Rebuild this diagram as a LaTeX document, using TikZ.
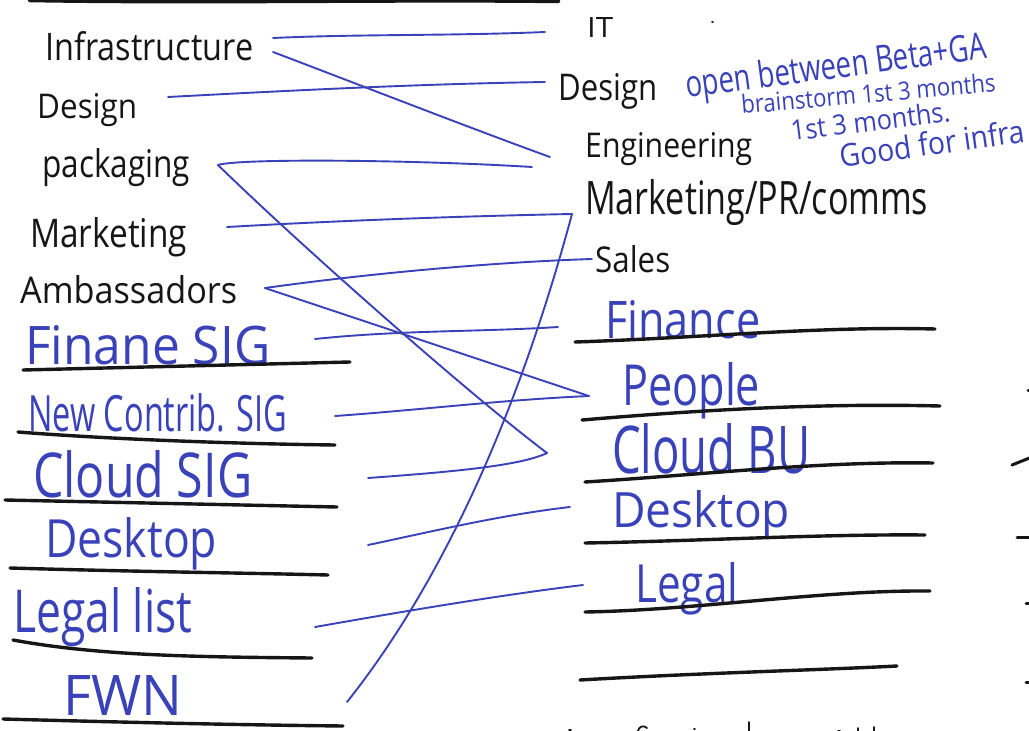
\documentclass[tikz,border=0pt]{standalone}
\usepackage{fontspec}
\usepackage{graphicx}
\setmainfont{Open Sans}
\definecolor{inkblue}{RGB}{58,66,185}
\definecolor{inkblack}{RGB}{22,22,22}
\newcommand{\hw}[3]{\resizebox{#1pt}{#2pt}{#3}}
\tikzset{
  lbl/.style={anchor=base west, inner sep=0pt, text=inkblack},
  blbl/.style={anchor=base west, inner sep=0pt, text=inkblue},
  note/.style={anchor=base west, inner sep=0pt, text=inkblue},
  link/.style={draw=inkblue, line width=1.9pt, line cap=round, line join=round},
  rulebar/.style={draw=inkblack, line width=3.4pt, line cap=round},
  speck/.style={draw=inkblack, line width=3pt, line cap=round},
  tick/.style={draw=inkblack, line width=1.8pt, line cap=round},
}
\begin{document}
\begin{tikzpicture}[x=1pt,y=-1pt]
\useasboundingbox[fill=white] (0,0) rectangle (1029,731);
\clip (0,0) rectangle (1029,731);

% top rule
\draw[rulebar, line width=4.5pt] (30,0) .. controls (200,3) and (400,-1) .. (558,1);

% ---------- left column, black ----------
\node[lbl] (lInfra)  at (45,60)  {\hw{208}{29}{Infrastructure}};
\node[lbl] (lDesign) at (37,118) {\hw{100}{25}{Design}};
\node[lbl] (lPack)   at (42,177) {\hw{148}{29}{packaging}};
\node[lbl] (lMkt)    at (30,247) {\hw{157}{30}{Marketing}};
\node[lbl] (lAmb)    at (20,303) {\hw{217}{28}{Ambassadors}};

% ---------- left column, blue ----------
\node[blbl] (lFin)   at (25,364) {\hw{245}{39}{Finane SIG}};
\node[blbl] (lNew)   at (28,431) {\hw{259}{38}{New Contrib. SIG}};
\node[blbl] (lCloud) at (33,497) {\hw{219}{47}{Cloud SIG}};
\node[blbl] (lDesk)  at (45,557) {\hw{172}{40}{Desktop}};
\node[blbl] (lLegal) at (13,632) {\hw{179}{45}{Legal list}};
\node[blbl] (lFwn)   at (63,715) {\hw{119}{40}{FWN}};

% left underlines
\draw[rulebar] (23,370) -- (350,362);
\draw[rulebar] (18,432) .. controls (120,440) and (250,444) .. (335,445);
\draw[rulebar] (5,500) -- (337,507);
\draw[rulebar] (10,568) .. controls (150,572) and (250,573) .. (328,575);
\draw[rulebar] (13,640) .. controls (100,656) and (200,657) .. (312,658);
\draw[rulebar] (3,719) .. controls (150,723) and (250,725) .. (343,726);

% ---------- right column, black ----------
\node[lbl] (rIT)     at (587,37)  {\hw{26}{20}{IT}};
\node[lbl] (rDesign) at (558,100) {\hw{99}{27}{Design}};
\node[lbl] (rEng)    at (585,157) {\hw{167}{25}{Engineering}};
\node[lbl] (rMkt)    at (585,214) {\hw{343}{35}{Marketing/PR/comms}};
\node[lbl] (rSales)  at (595,272) {\hw{75}{27}{Sales}};

% ---------- right column, blue ----------
\node[blbl] (rFin)    at (605,338) {\hw{155}{38}{Finance}};
\node[blbl] (rPeople) at (622,405) {\hw{138}{43}{People}};
\node[blbl] (rCloud)  at (612,473) {\hw{198}{50}{Cloud BU}};
\node[blbl] (rDesk)   at (612,527) {\hw{178}{37}{Desktop}};
\node[blbl] (rLegal)  at (635,602) {\hw{103}{40}{Legal}};

% right underlines
\draw[rulebar] (575,342) .. controls (700,338) and (820,326) .. (935,329);
\draw[rulebar] (582,420) .. controls (700,410) and (820,403) .. (940,406);
\draw[rulebar] (585,482) .. controls (700,475) and (820,461) .. (933,463);
\draw[rulebar] (585,543) .. controls (700,541) and (820,534) .. (925,535);
\draw[rulebar] (585,612) .. controls (700,610) and (820,590) .. (930,591);
\draw[rulebar] (580,680) .. controls (700,673) and (820,670) .. (897,666);

% far right clipped strokes
\draw[speck] (1012,465) -- (1032,457);
\draw[speck] (1017,537) -- (1032,537);
\draw[speck] (1026,603) -- (1032,603);
\draw[speck] (1026,682) -- (1032,682);
\draw[speck] (1028,390) -- (1030,390);
% bottom clipped strokes
\draw[tick] (569,730) -- (571,730);
\draw[tick] (638,731) .. controls (639,726) and (644,725) .. (647,728);
\draw[tick] (694,729) -- (695,729);
\draw[tick] (749,722) -- (749,733);
\draw[tick] (838,731) -- (840,731);
\draw[tick] (858,728) -- (858,733);
\draw[tick] (874,727) -- (874,733);
\draw[tick] (712,22) -- (713,22);

% ---------- blue note ----------
\node[note, rotate=7.5] (nOpen)  at (687,98)  {\hw{303}{28}{open between Beta+GA}};
\node[note, rotate=5]   (nBrain) at (742,114) {\hw{255}{19}{brainstorm 1st 3 months}};
\node[note, rotate=7]   (nFirst) at (792,141) {\hw{160}{21}{1st 3 months.}};
\node[note, rotate=8]   (nGood)  at (841,168) {\hw{186}{24}{Good for infra}};

% ---------- connector end points ----------
\coordinate (pInfraA) at (273,38);
\coordinate (pInfraB) at (273,52);
\coordinate (pDesignL) at (168,97);
\coordinate (pPack) at (218,165);
\coordinate (pMktL) at (227,227);
\coordinate (pAmb) at (265,288);
\coordinate (pFinL) at (315,339);
\coordinate (pNewL) at (335,416);
\coordinate (pCloudL) at (368,478);
\coordinate (pDeskL) at (368,545);
\coordinate (pLegalL) at (315,627);
\coordinate (pFwn) at (347,702);

\coordinate (qIT) at (545,32);
\coordinate (qDesign) at (545,82);
\coordinate (qEngA) at (550,157);
\coordinate (qEngB) at (532,167);
\coordinate (qMkt) at (572,214);
\coordinate (qSales) at (592,259);
\coordinate (qFin) at (558,327);
\coordinate (qPeople) at (589,396);
\coordinate (qCloud) at (547,453);
\coordinate (qDesk) at (570,507);
\coordinate (qLegal) at (583,585);

% ---------- connectors ----------
\draw[link] (pInfraA) .. controls (360,34) and (450,36) .. (qIT);
\draw[link] (pInfraB) .. controls (360,85) and (470,128) .. (qEngA);
\draw[link] (pDesignL) .. controls (300,90) and (420,84) .. (qDesign);
\draw[link] (pPack) .. controls (240,158) and (420,160) .. (qEngB);
\draw[link] (pPack) .. controls (300,245) and (470,395) .. (qCloud);
\draw[link] (pCloudL) .. controls (450,472) and (520,466) .. (qCloud);
\draw[link] (pMktL) .. controls (350,220) and (470,216) .. (qMkt);
\draw[link] (qMkt) .. controls (530,370) and (460,560) .. (pFwn);
\draw[link] (pAmb) .. controls (380,272) and (500,262) .. (qSales);
\draw[link] (pAmb) -- (qPeople);
\draw[link] (pFinL) .. controls (400,330) and (480,332) .. (qFin);
\draw[link] (pNewL) .. controls (420,410) and (500,400) .. (qPeople);
\draw[link] (pDeskL) .. controls (430,532) and (500,515) .. (qDesk);
\draw[link] (pLegalL) .. controls (400,612) and (500,595) .. (qLegal);
\end{tikzpicture}
\end{document}
